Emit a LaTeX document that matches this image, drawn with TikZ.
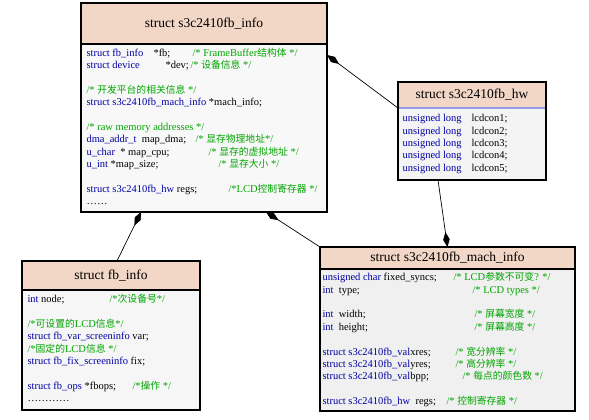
\documentclass[tikz,border=0pt]{standalone}
\usepackage{fontspec}
\setmainfont{Liberation Serif}
\newfontfamily\cjk{Noto Sans CJK SC}
\usetikzlibrary{arrows.meta}
\definecolor{kw}{RGB}{0,0,165}
\definecolor{cm}{RGB}{0,165,0}
\definecolor{hdrfill}{RGB}{242,214,198}
\definecolor{hwline}{RGB}{150,150,235}
\newcommand\K[1]{\textcolor{kw}{#1}}
\newcommand\C[1]{\textcolor{cm}{#1}}
\newcommand\Z[1]{{\cjk\fontsize{9.8}{12.4}\selectfont #1}}
\newcommand\At[2]{\makebox[0pt][l]{\hspace*{#1pt}#2}}
\begin{document}
\begin{tikzpicture}[x=1pt,y=-1pt,
  body/.style={draw=black,line width=1.6pt,anchor=north west,inner sep=0pt,outer sep=0pt},
  hdr/.style={anchor=north west,inner sep=0pt,outer sep=0pt,fill=hdrfill,font=\fontsize{13.5}{16}\selectfont},
  border/.style={draw=black,line width=1.6pt},
  sepline/.style={draw=black,line width=1.2pt},
  txt/.style={anchor=north west,inner sep=0pt,outer sep=0pt,align=left,font=\fontsize{10.5}{12.4}\selectfont},
  comp/.style={draw=black,line width=0.7pt,-{Diamond[length=15pt,width=6.5pt]}}]
\useasboundingbox[fill=white] (0,0) rectangle (589,420);

% ---- struct s3c2410fb_info
\node[body,fill={rgb,255:red,248;green,248;blue,248},minimum width=246pt,minimum height=209pt] (top) at (81,3) {};
\node[hdr,minimum width=246pt,minimum height=41pt] (toph) at (top.north west) {struct s3c2410fb\_info};
\draw[sepline] (toph.south west) -- (toph.south east);
\draw[border] (top.north west) rectangle (top.south east);
\node[txt] (topt) at (86,47.5) {\strut\At{0}{\K{struct fb\_info}}\At{67}{*fb;}\At{106}{\C{/* FrameBuffer\Z{结构体} */}}\\
\At{0}{\K{struct device}}\At{79}{*dev;}\At{104}{\C{/* \Z{设备信息} */}}\\[12.4pt]
\At{0}{\C{/* \Z{开发平台的相关信息} */}}\\
\At{0}{\K{struct s3c2410fb\_mach\_info} *mach\_info;}\\[12.4pt]
\At{0}{\C{/* raw memory addresses */}}\\
\At{0}{\K{dma\_addr\_t} \ map\_dma;}\At{109}{\C{/* \Z{显存物理地址}*/}}\\
\At{0}{\K{u\_char} \ * map\_cpu;}\At{122}{\C{/* \Z{显存的虚拟地址} */}}\\
\At{0}{\K{u\_int} *map\_size;}\At{132}{\C{/* \Z{显存大小} */}}\\[12.4pt]
\At{0}{\K{struct s3c2410fb\_hw} regs;}\At{142}{\C{/*LCD\Z{控制寄存器} */}}\\
\At{0}{\dots\dots}};

% ---- struct s3c2410fb_hw
\node[body,fill={rgb,255:red,244;green,244;blue,244},minimum width=148pt,minimum height=98pt] (hw) at (398,82) {};
\node[hdr,minimum width=148pt,minimum height=26pt] (hwh) at (hw.north west) {struct s3c2410fb\_hw};
\draw[draw=hwline,line width=1.6pt] (hwh.south west) -- (hwh.south east);
\draw[border] (hw.north west) rectangle (hw.south east);
\node[txt] (hwt) at (402,113) {\strut\At{0}{\K{unsigned long}}\At{69}{lcdcon1;}\\
\At{0}{\K{unsigned long}}\At{69}{lcdcon2;}\\
\At{0}{\K{unsigned long}}\At{69}{lcdcon3;}\\
\At{0}{\K{unsigned long}}\At{69}{lcdcon4;}\\
\At{0}{\K{unsigned long}}\At{69}{lcdcon5;}};

% ---- struct fb_info
\node[body,fill={rgb,255:red,246;green,246;blue,246},minimum width=178pt,minimum height=149pt] (fb) at (22,261) {};
\node[hdr,minimum width=178pt,minimum height=29pt] (fbh) at (fb.north west) {struct fb\_info};
\draw[sepline] (fbh.south west) -- (fbh.south east);
\draw[border] (fb.north west) rectangle (fb.south east);
\node[txt] (fbt) at (27,294) {\strut\At{0}{\K{int} node;}\At{82}{\C{/*\Z{次设备号}*/}}\\[12.4pt]
\At{0}{\C{/*\Z{可设置的}LCD\Z{信息}*/}}\\
\At{0}{\K{struct fb\_var\_screeninfo} var;}\\
\At{0}{\C{/*\Z{固定的}LCD\Z{信息} */}}\\
\At{0}{\K{struct fb\_fix\_screeninfo} fix;}\\[12.4pt]
\At{0}{\K{struct fb\_ops} *fbops;}\At{105}{\C{/*\Z{操作} */}}\\
\At{0}{\dots\dots\dots\dots}};

% ---- struct s3c2410fb_mach_info
\node[body,fill={rgb,255:red,240;green,240;blue,240},minimum width=255pt,minimum height=164pt] (mach) at (320,247) {};
\node[hdr,minimum width=255pt,minimum height=22pt] (machh) at (mach.north west) {struct s3c2410fb\_mach\_info};
\draw[sepline] (machh.south west) -- (machh.south east);
\draw[border] (mach.north west) rectangle (mach.south east);
\node[txt] (macht) at (322,272) {\strut\At{0}{\K{unsigned char} fixed\_syncs;}\At{131}{\C{/* LCD\Z{参数不可变}? */}}\\
\At{0}{\K{int} \ type;}\At{150}{\C{/* LCD types */}}\\[12.4pt]
\At{0}{\K{int} \ width;}\At{152}{\C{/* \Z{屏幕宽度} */}}\\
\At{0}{\K{int} \ height;}\At{152}{\C{/* \Z{屏幕高度} */}}\\[12.4pt]
\At{0}{\K{struct s3c2410fb\_val}xres;}\At{133}{\C{/* \Z{宽分辨率} */}}\\
\At{0}{\K{struct s3c2410fb\_val}yres;}\At{133}{\C{/* \Z{高分辨率} */}}\\
\At{0}{\K{struct s3c2410fb\_val}bpp;}\At{140}{\C{/* \Z{每点的颜色数} */}}\\[12.4pt]
\At{0}{\K{struct s3c2410fb\_hw} \ regs;}\At{124}{\C{/* \Z{控制寄存器} */}}};

% ---- connectors (filled diamond = composition)
\draw[comp] ([xshift=6pt]fb.north) -- ([xshift=-63pt]top.south);
\draw[comp] (mach.north west) -- ([xshift=62pt]top.south);
\draw[comp] (hwh.south west) -- ([yshift=52.5pt]top.east);
\draw[comp] ([xshift=-34pt]hw.south) -- (mach.north);
\end{tikzpicture}
\end{document}
